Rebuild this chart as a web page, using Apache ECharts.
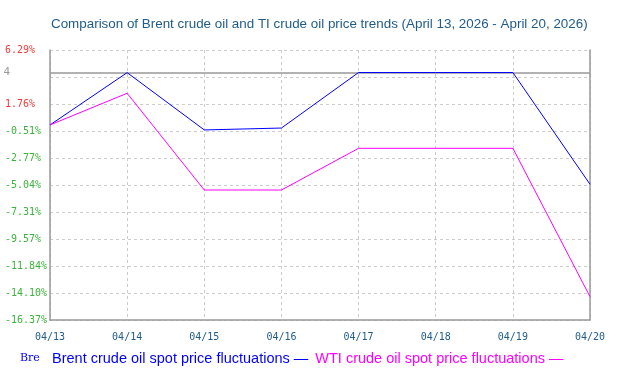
<!DOCTYPE html>
<html><head><meta charset="utf-8">
<script src="https://cdn.jsdelivr.net/npm/echarts@6/dist/echarts.min.js"></script>
<style>html,body{margin:0;padding:0;background:#fff}#c{width:617px;height:375px}</style>
</head><body><div id="c"></div>
<script>
const categories = ['04/13','04/14','04/15','04/16','04/17','04/18','04/19','04/20'];
const brent = [0, 4.39, -0.42, -0.26, 4.40, 4.40, 4.40, -4.98];
const wti = [0, 2.66, -5.46, -5.46, -1.96, -1.96, -1.96, -14.41];
const yTicks = [-16.37, -14.10, -11.84, -9.57, -7.31, -5.04, -2.77, -0.51, 1.76, 4.02, 6.29];
const hiddenTick = 4.02;
const refLineValue = 4.4;
const refLineLabel = '4';
const titleText = 'Comparison of Brent crude oil and TI crude oil price trends (April 13, 2026 - April 20, 2026)';
const brentName = 'Brent crude oil spot price fluctuations';
const wtiName = 'WTI crude oil spot price fluctuations';

const monoFont = 'DejaVu Sans Mono';
const chart = echarts.init(document.getElementById('c'), null, {renderer: 'canvas'});
chart.setOption({
  animation: false,
  backgroundColor: '#fff',
  title: [{
    text: titleText, left: 46, top: 13,
    textStyle: {fontFamily: 'Liberation Sans', fontSize: 13.4, fontWeight: 'normal', color: '#1f5c8c'}
  }, {
    text: 'Bre', left: 15, top: 348,
    textStyle: {fontFamily: 'DejaVu Serif', fontSize: 11, fontWeight: 'normal', color: '#0000ff'}
  }],
  legend: {
    left: 42, top: 346, icon: 'none', itemWidth: 0, itemGap: 2,
    formatter: n => n + ' \u2014',
    textStyle: {fontFamily: 'Liberation Sans', fontSize: 14.5},
    data: [
      {name: brentName, textStyle: {color: '#0000ff'}},
      {name: wtiName, textStyle: {color: '#ff00ff'}}
    ]
  },
  grid: {left: 50, right: 27, top: 50, bottom: 55, containLabel: false},
  xAxis: {
    type: 'category', data: categories, boundaryGap: false,
    axisLine: {onZero: false, lineStyle: {color: '#999', width: 1.5}},
    axisTick: {show: false},
    axisLabel: {fontFamily: monoFont, fontSize: 10, color: '#1f5c8c', margin: 12},
    splitLine: {show: true, lineStyle: {color: '#ccc', type: [3, 3]}}
  },
  yAxis: [{
    type: 'value', min: yTicks[0], max: yTicks[yTicks.length - 1],
    axisLine: {show: true, lineStyle: {color: '#999', width: 1.5}},
    axisTick: {show: false, customValues: yTicks},
    axisLabel: {
      customValues: yTicks,
      fontFamily: monoFont, fontSize: 10, align: 'left', margin: 45,
      formatter: v => (Math.abs(v - hiddenTick) < 1e-6 ? '' : v.toFixed(2) + '%'),
      color: v => (v > 0 ? '#f03c3c' : '#3cb43c')
    },
    splitLine: {show: true, lineStyle: {color: '#ccc', type: [3, 3]}}
  }, {
    type: 'value', position: 'right', min: yTicks[0], max: yTicks[yTicks.length - 1],
    axisLine: {show: true, lineStyle: {color: '#999', width: 1.5}},
    axisTick: {show: false}, axisLabel: {show: false}, splitLine: {show: false}
  }],
  series: [{
    name: brentName, type: 'line', data: brent, symbol: 'none', z: 3,
    lineStyle: {color: '#0000ff', width: 1}, itemStyle: {color: '#0000ff'},
    markLine: {
      silent: true, symbol: 'none', z: 1,
      lineStyle: {color: '#999', type: 'solid', width: 1.5},
      label: {position: 'start', formatter: refLineLabel, distance: 40, color: '#999',
              fontFamily: monoFont, fontSize: 11},
      data: [{yAxis: refLineValue}]
    }
  }, {
    name: wtiName, type: 'line', data: wti, symbol: 'none', z: 3,
    lineStyle: {color: '#ff00ff', width: 1}, itemStyle: {color: '#ff00ff'}
  }]
});
</script></body></html>
